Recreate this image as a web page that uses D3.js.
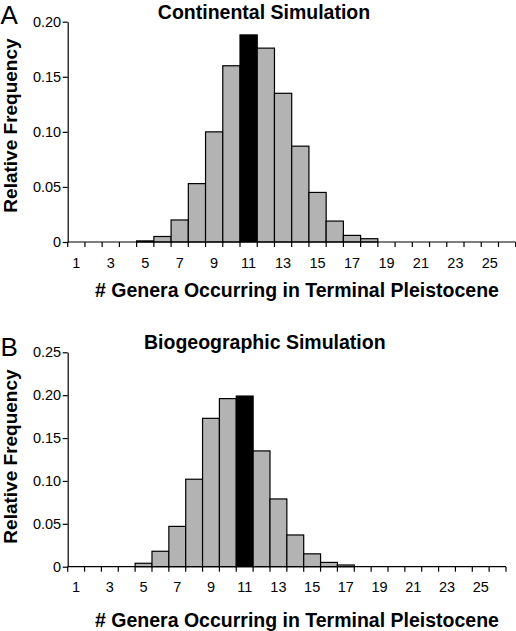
<!DOCTYPE html>
<html><head><meta charset="utf-8">
<script src="https://cdn.jsdelivr.net/npm/d3@7"></script>
<style>body{margin:0;background:#fff}svg{display:block}</style>
</head><body>
<svg id="c" width="516" height="631"></svg>
<script>
const categories = d3.range(1, 27);
const xTickLabels = [1,3,5,7,9,11,13,15,17,19,21,23,25];
const continentalValues = [0,0,0,0,0.001,0.005,0.020,0.053,0.100,0.160,0.188,0.176,0.135,0.087,0.045,0.019,0.006,0.003,0,0,0,0,0,0,0,0];
const biogeographicValues = [0,0,0,0,0.004,0.018,0.047,0.102,0.173,0.196,0.199,0.135,0.079,0.037,0.015,0.005,0.002,0,0,0,0,0,0,0,0,0];
const continentalYTicks = [0,0.05,0.10,0.15,0.20];
const biogeographicYTicks = [0,0.05,0.10,0.15,0.20,0.25];
const highlightCategory = 11;

const svg = d3.select("#c");
const FONT = "'Liberation Sans', Arial, sans-serif";

function panel(cfg){
  const g = svg.append("g");
  const x = d3.scaleBand().domain(categories).range([cfg.x0, cfg.x1]).padding(0);
  const y = d3.scaleLinear().domain([0, cfg.ymax]).range([cfg.y0, cfg.ytop]);
  g.selectAll("rect.bar").data(categories.map((c,i)=>({c, v: cfg.values[i]})).filter(d=>d.v>0))
    .join("rect")
    .attr("x", d=>x(d.c)).attr("width", x.bandwidth())
    .attr("y", d=>y(d.v)).attr("height", d=>y(0)-y(d.v))
    .attr("fill", d=>d.c===highlightCategory ? "#000" : "#b3b3b3")
    .attr("stroke", "#000").attr("stroke-width", 1.2);
  const ya = g.append("g").attr("transform", `translate(${cfg.x0},0)`)
    .call(d3.axisLeft(y).tickValues(cfg.yTicks).tickSize(5).tickSizeOuter(0).tickPadding(1.5)
      .tickFormat(v => v===0 ? "0" : d3.format(".2f")(v)));
  ya.selectAll("text").attr("font-family", FONT).attr("font-size", 14.5).attr("fill","#000");
  ya.selectAll("line, path").attr("stroke","#000").attr("stroke-width",1.2);
  const xa = g.append("g").attr("transform", `translate(0,${cfg.y0})`);
  xa.append("line").attr("x1", cfg.x0).attr("x2", cfg.x1).attr("stroke","#000").attr("stroke-width",1.2);
  const bounds = categories.map(c=>x(c)).concat([x(categories[categories.length-1]) + x.bandwidth()]);
  xa.selectAll("line.tk").data(bounds).join("line").attr("class","tk")
    .attr("x1", d=>d).attr("x2", d=>d).attr("y1",0).attr("y2",5)
    .attr("stroke","#000").attr("stroke-width",1.2);
  xa.selectAll("text.tl").data(xTickLabels).join("text").attr("class","tl")
    .attr("x", d=>x(d)+x.bandwidth()/2).attr("y", cfg.labelDy)
    .attr("text-anchor","middle").attr("font-family",FONT).attr("font-size",14.5)
    .text(d=>d);
  g.append("text").attr("x", cfg.titleX).attr("y", cfg.titleY).attr("text-anchor","middle")
    .attr("font-family",FONT).attr("font-weight","bold").attr("font-size",19.5).text(cfg.title);
  g.append("text").attr("x", 297).attr("y", cfg.xTitleY).attr("text-anchor","middle")
    .attr("font-family",FONT).attr("font-weight","bold").attr("font-size",19.5)
    .text("# Genera Occurring in Terminal Pleistocene");
  g.append("text").attr("transform", `translate(16.5,${cfg.yTitleY}) rotate(-90)`).attr("text-anchor","middle")
    .attr("font-family",FONT).attr("font-weight","bold").attr("font-size",19)
    .text("Relative Frequency");
  g.append("text").attr("x", 0.5).attr("y", cfg.letterY)
    .attr("font-family",FONT).attr("font-size",26).text(cfg.letter);
}

panel({x0:67.7, x1:515.7, y0:242, ytop:21.7, ymax:0.20, values:continentalValues, yTicks:continentalYTicks,
  labelDy:26.3, title:"Continental Simulation", titleX:264, titleY:19, xTitleY:296.7, yTitleY:125.5, letter:"A", letterY:24});
panel({x0:67.7, x1:506, y0:566.7, ytop:352.3, ymax:0.25, values:biogeographicValues, yTicks:biogeographicYTicks,
  labelDy:25.6, title:"Biogeographic Simulation", titleX:264.8, titleY:349.3, xTitleY:626.7, yTitleY:456.5, letter:"B", letterY:356});
</script>
</body></html>
